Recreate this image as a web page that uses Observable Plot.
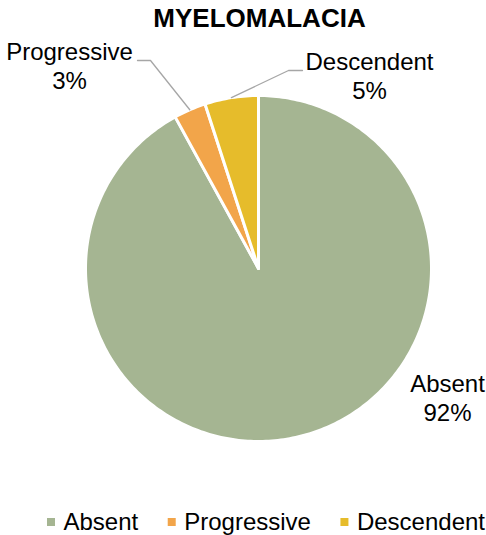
<!DOCTYPE html>
<html><head><meta charset="utf-8">
<script src="https://cdn.jsdelivr.net/npm/d3@7"></script>
<script src="https://cdn.jsdelivr.net/npm/@observablehq/plot@0.6"></script>
<style>body{margin:0;background:#fff} svg{display:block}</style>
</head><body><div id="chart"></div>
<script>
const title = "MYELOMALACIA";
const categories = ["Absent", "Progressive", "Descendent"];
const values = [92, 3, 5];
const colors = ["#A5B592", "#F2A54A", "#E6BC2B"];

// layout (pixels)
const W = 486, H = 535, cx = 258, cy = 268, R = 173;
const FONT = "Liberation Sans, Arial, sans-serif";
const labelLayout = {
  Absent: {x: 447, y: 420, path: []},
  Progressive: {x: 69, y: 88, path: [[150, 60], [137, 60]]},
  Descendent: {x: 369, y: 98, path: [[288, 70], [302, 70]]}
};
const legendLayout = {x0: 47, y: 529, sq: 8, gapSq: 8, gapItem: 30, sqCy: 522};

const total = d3.sum(values);
let acc = 0;
const slices = categories.map((c, i) => {
  const a0 = acc / total * 2 * Math.PI; acc += values[i];
  const a1 = acc / total * 2 * Math.PI;
  return {c, v: values[i], a0, a1, pct: Math.round(values[i] / total * 100)};
});
const pt = (a, r) => [cx + r * Math.sin(a), cy - r * Math.cos(a)];
const slicePts = [];
for (const s of slices) {
  slicePts.push({c: s.c, x: cx, y: cy});
  const n = Math.max(2, Math.ceil((s.a1 - s.a0) / (Math.PI / 180)));
  for (let k = 0; k <= n; k++) {
    const [x, y] = pt(s.a0 + (s.a1 - s.a0) * k / n, R);
    slicePts.push({c: s.c, x, y});
  }
}
const labels = slices.map(s => ({c: s.c, text: `${s.c}\n${s.pct}%`, x: labelLayout[s.c].x, y: labelLayout[s.c].y}));
const leaders = [];
for (const s of slices) {
  const p = labelLayout[s.c].path;
  if (!p.length) continue;
  const [x, y] = pt((s.a0 + s.a1) / 2, R);
  leaders.push({c: s.c, x, y});
  for (const [px, py] of p) leaders.push({c: s.c, x: px, y: py});
}
// legend
const ctx = document.createElement("canvas").getContext("2d");
ctx.font = `24px ${FONT}`;
let lx = legendLayout.x0;
const legendItems = categories.map(c => {
  const w = ctx.measureText(c).width;
  const item = {c, x1: lx, x2: lx + legendLayout.sq, y1: legendLayout.sqCy - legendLayout.sq / 2, y2: legendLayout.sqCy + legendLayout.sq / 2, tx: lx + legendLayout.sq + legendLayout.gapSq, ty: legendLayout.y};
  lx += legendLayout.sq + legendLayout.gapSq + w + legendLayout.gapItem;
  return item;
});

const chart = Plot.plot({
  width: W, height: H, margin: 0,
  style: {fontFamily: FONT, background: "#fff"},
  x: {domain: [0, W], range: [0, W], axis: null},
  y: {domain: [0, H], range: [0, H], axis: null},
  color: {domain: categories, range: colors},
  marks: [
    Plot.line(slicePts, {x: "x", y: "y", z: "c", fill: "c", stroke: "white", strokeWidth: 3, curve: "linear-closed", strokeLinejoin: "round"}),
    Plot.line(leaders, {x: "x", y: "y", z: "c", stroke: "#A6A6A6", strokeWidth: 1.3}),
    Plot.text(labels, {x: "x", y: "y", text: "text", fontSize: 24, fill: "#000", textAnchor: "middle", lineAnchor: "bottom", lineHeight: 1.17}),
    Plot.text([title], {x: () => 259, y: () => 26, text: d => d, fontSize: 26, fontWeight: "bold", fill: "#000", lineAnchor: "bottom"}),
    Plot.rect(legendItems, {x1: "x1", x2: "x2", y1: "y1", y2: "y2", fill: "c"}),
    Plot.text(legendItems, {x: "tx", y: "ty", text: "c", fontSize: 24, fill: "#000", textAnchor: "start", lineAnchor: "bottom"})
  ]
});
document.getElementById("chart").append(chart);
</script>
</body></html>
